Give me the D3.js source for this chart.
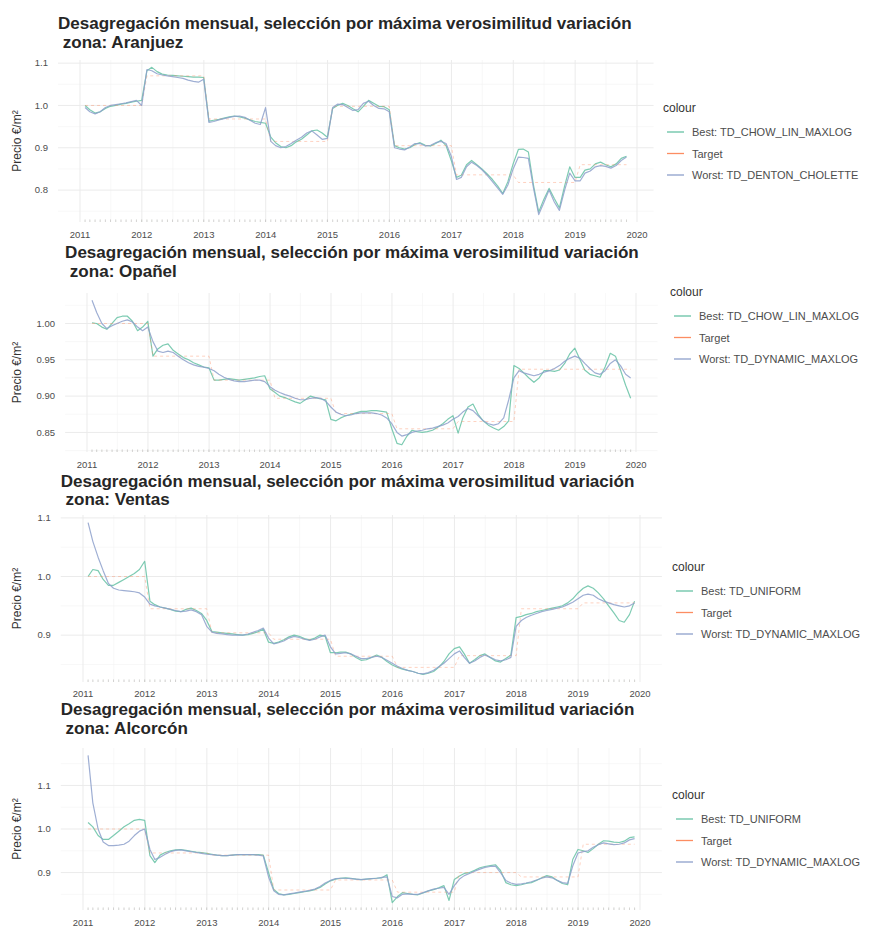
<!DOCTYPE html>
<html>
<head>
<meta charset="utf-8">
<script src="https://cdn.jsdelivr.net/npm/d3@7"></script>
<style>
  body { margin: 0; background: #ffffff; }
  svg { display: block; }
  text { font-family: "Liberation Sans", Arial, Helvetica, sans-serif; }
</style>
</head>
<body>
<svg id="chart" width="881" height="929"></svg>
<script>
// ---------------------------------------------------------------------------
// Data: monthly price index (2011-01 onwards), annual targets, tick labels
// ---------------------------------------------------------------------------
const xTickYears = [2011, 2012, 2013, 2014, 2015, 2016, 2017, 2018, 2019, 2020];
const seriesKeys = ["Best", "Target", "Worst"];
const titleText = "Desagregación mensual, selección por máxima verosimilitud variación";
const legendTitle = "colour";
const yAxisTitle = "Precio €/m²";

// Aranjuez
const aranjuezBest = [
  1.000, 0.990, 0.982, 0.985, 0.993, 0.998, 1.000, 1.003, 1.005, 1.008, 1.010, 1.012,
  1.082, 1.090, 1.080, 1.074, 1.072, 1.071, 1.070, 1.069, 1.068, 1.067, 1.067, 1.066,
  0.963, 0.965, 0.967, 0.970, 0.973, 0.975, 0.973, 0.970, 0.966, 0.962, 0.960, 0.958,
  0.925, 0.912, 0.903, 0.900, 0.905, 0.914, 0.920, 0.930, 0.940, 0.942, 0.935, 0.925,
  0.993, 1.000, 1.005, 1.000, 0.992, 0.985, 0.998, 1.012, 1.005, 0.998, 0.997, 0.990,
  0.905, 0.900, 0.897, 0.900, 0.908, 0.912, 0.906, 0.904, 0.910, 0.918, 0.905, 0.870,
  0.830, 0.835, 0.860, 0.870, 0.860, 0.850, 0.838, 0.825, 0.810, 0.792, 0.820, 0.862,
  0.896, 0.897, 0.890, 0.812, 0.748, 0.778, 0.804, 0.780, 0.758, 0.810, 0.855, 0.830,
  0.830, 0.847, 0.850, 0.862, 0.866, 0.860, 0.855, 0.862, 0.875, 0.880
];
const aranjuezWorst = [
  0.995, 0.985, 0.980, 0.985, 0.995, 1.000, 1.002, 1.004, 1.006, 1.009, 1.012, 1.000,
  1.085, 1.082, 1.075, 1.072, 1.070, 1.068, 1.066, 1.064, 1.060, 1.057, 1.055, 1.062,
  0.960, 0.962, 0.966, 0.969, 0.972, 0.974, 0.975, 0.972, 0.965, 0.958, 0.955, 0.995,
  0.915, 0.905, 0.900, 0.903, 0.910, 0.918, 0.925, 0.935, 0.940, 0.930, 0.920, 0.922,
  0.995, 1.003, 1.002, 0.995, 0.988, 0.990, 1.005, 1.010, 1.000, 0.993, 0.992, 0.985,
  0.900, 0.897, 0.895, 0.902, 0.910, 0.910, 0.904, 0.906, 0.912, 0.915, 0.910, 0.880,
  0.825, 0.830, 0.855, 0.866, 0.858, 0.848, 0.835, 0.820, 0.805, 0.790, 0.812, 0.850,
  0.878, 0.877, 0.875, 0.805, 0.742, 0.770, 0.800, 0.772, 0.752, 0.800, 0.840, 0.822,
  0.822, 0.840, 0.845, 0.855, 0.858, 0.856, 0.852, 0.858, 0.870, 0.878
];
const aranjuezTarget = [1.000, 1.070, 0.968, 0.915, 0.998, 0.905, 0.836, 0.818, 0.860];

// Opañel
const opanelBest = [
  1.001, 1.000, 0.995, 0.992, 1.000, 1.008, 1.010, 1.010, 1.003, 0.990, 0.995, 1.003,
  0.955, 0.965, 0.970, 0.972, 0.963, 0.958, 0.953, 0.950, 0.946, 0.943, 0.940, 0.939,
  0.922, 0.922, 0.923, 0.924, 0.923, 0.922, 0.923, 0.924, 0.925, 0.927, 0.928, 0.910,
  0.905, 0.900, 0.898, 0.895, 0.892, 0.890, 0.895, 0.900, 0.898, 0.896, 0.895, 0.868,
  0.866, 0.870, 0.873, 0.875, 0.877, 0.879, 0.879, 0.880, 0.880, 0.879, 0.878, 0.855,
  0.835, 0.833, 0.845, 0.853, 0.851, 0.850, 0.851, 0.853, 0.857, 0.862, 0.868, 0.873,
  0.849, 0.870, 0.885, 0.889, 0.875, 0.866, 0.860, 0.856, 0.853, 0.858, 0.866, 0.942,
  0.938, 0.932, 0.925, 0.919, 0.925, 0.935, 0.935, 0.934, 0.936, 0.945, 0.958, 0.966,
  0.950, 0.936, 0.930, 0.928, 0.926, 0.940, 0.959, 0.955, 0.936, 0.915, 0.897
];
const opanelWorst = [
  1.032, 1.015, 1.000, 0.993, 0.997, 1.000, 1.003, 1.005, 1.002, 0.995, 0.990, 0.995,
  0.975, 0.962, 0.960, 0.962, 0.960, 0.955, 0.950, 0.946, 0.943, 0.941, 0.940, 0.938,
  0.935, 0.930, 0.926, 0.923, 0.921, 0.920, 0.920, 0.921, 0.922, 0.922, 0.920, 0.913,
  0.908, 0.905, 0.902, 0.900, 0.897, 0.895, 0.895, 0.897, 0.898, 0.897, 0.893, 0.885,
  0.878, 0.875, 0.873, 0.874, 0.876, 0.877, 0.877, 0.877, 0.876, 0.874, 0.870, 0.862,
  0.850, 0.845, 0.847, 0.850, 0.852, 0.853, 0.855, 0.856, 0.858, 0.860, 0.863, 0.868,
  0.872, 0.878, 0.883, 0.880, 0.873, 0.866, 0.862, 0.860, 0.862, 0.870, 0.895, 0.925,
  0.935, 0.932, 0.930, 0.928, 0.930, 0.933, 0.935, 0.938, 0.942, 0.948, 0.952, 0.955,
  0.952, 0.945, 0.938, 0.932, 0.930, 0.935, 0.945, 0.950, 0.942, 0.930, 0.925
];
const opanelTarget = [1.000, 0.955, 0.922, 0.897, 0.876, 0.855, 0.865, 0.937, 0.937];

// Ventas
const ventasBest = [
  1.000, 1.012, 1.010, 0.995, 0.985, 0.985, 0.990, 0.995, 1.000, 1.005, 1.012, 1.026,
  0.958, 0.952, 0.948, 0.946, 0.944, 0.941, 0.940, 0.944, 0.946, 0.942, 0.937, 0.925,
  0.906, 0.905, 0.904, 0.903, 0.902, 0.901, 0.900, 0.901, 0.903, 0.906, 0.910, 0.888,
  0.886, 0.888, 0.892, 0.897, 0.900, 0.898, 0.894, 0.892, 0.895, 0.900, 0.898, 0.870,
  0.870, 0.871, 0.871, 0.868, 0.862, 0.857, 0.858, 0.862, 0.866, 0.862, 0.855, 0.849,
  0.845, 0.842, 0.840, 0.838, 0.835, 0.833, 0.835, 0.838, 0.845, 0.855, 0.868, 0.877,
  0.880, 0.868, 0.852, 0.858, 0.865, 0.868, 0.862, 0.856, 0.854, 0.860, 0.866, 0.930,
  0.932, 0.935, 0.937, 0.940, 0.942, 0.944, 0.946, 0.948, 0.950, 0.955, 0.962, 0.972,
  0.980, 0.984, 0.980, 0.972, 0.962, 0.950, 0.938, 0.925, 0.922, 0.935, 0.958
];
const ventasWorst = [
  1.092, 1.060, 1.033, 1.010, 0.988, 0.980, 0.977, 0.976, 0.975, 0.974, 0.972, 0.965,
  0.953, 0.950, 0.948, 0.946, 0.944, 0.942, 0.940, 0.941, 0.943, 0.940, 0.935, 0.915,
  0.905, 0.903, 0.902, 0.901, 0.900, 0.900, 0.900, 0.902, 0.905, 0.908, 0.912, 0.895,
  0.885, 0.887, 0.890, 0.895, 0.898, 0.896, 0.893, 0.891, 0.893, 0.897, 0.900, 0.880,
  0.868, 0.869, 0.870, 0.868, 0.864, 0.860, 0.860, 0.862, 0.864, 0.862, 0.857, 0.852,
  0.847, 0.843, 0.840, 0.838, 0.835, 0.834, 0.836, 0.840, 0.846, 0.852, 0.860, 0.868,
  0.873, 0.862, 0.852, 0.856, 0.862, 0.866, 0.862, 0.858, 0.856, 0.858, 0.862, 0.915,
  0.925, 0.930, 0.934, 0.937, 0.940, 0.942, 0.944, 0.946, 0.948, 0.952, 0.956, 0.962,
  0.968, 0.970, 0.968, 0.962, 0.958, 0.955, 0.952, 0.950, 0.948, 0.950, 0.955
];
const ventasTarget = [1.000, 0.945, 0.904, 0.893, 0.864, 0.845, 0.865, 0.945, 0.955];

// Alcorcón
const alcorconBest = [
  1.015, 1.005, 0.985, 0.976, 0.976, 0.985, 0.995, 1.005, 1.012, 1.020, 1.022, 1.020,
  0.939, 0.923, 0.940, 0.946, 0.950, 0.952, 0.953, 0.951, 0.949, 0.947, 0.946, 0.944,
  0.942, 0.940, 0.939, 0.939, 0.940, 0.941, 0.941, 0.941, 0.941, 0.941, 0.940, 0.900,
  0.861, 0.852, 0.849, 0.850, 0.852, 0.854, 0.856, 0.858, 0.861, 0.866, 0.874, 0.881,
  0.885, 0.887, 0.888, 0.887, 0.885, 0.884, 0.885, 0.886, 0.887, 0.888, 0.895, 0.831,
  0.845, 0.854, 0.852, 0.850, 0.849, 0.853, 0.858, 0.861, 0.865, 0.870, 0.836, 0.884,
  0.892, 0.898, 0.900, 0.905, 0.911, 0.914, 0.916, 0.918, 0.905, 0.877, 0.872, 0.870,
  0.872, 0.875, 0.877, 0.882, 0.888, 0.893, 0.890, 0.882, 0.875, 0.872, 0.930, 0.953,
  0.950, 0.946, 0.955, 0.965, 0.973, 0.972, 0.970, 0.969, 0.972, 0.980, 0.982
];
const alcorconWorst = [
  1.169, 1.060, 1.000, 0.970, 0.962, 0.962, 0.963, 0.965, 0.972, 0.985, 0.995, 1.000,
  0.953, 0.930, 0.935, 0.942, 0.948, 0.951, 0.952, 0.950, 0.948, 0.946, 0.944, 0.942,
  0.941, 0.940, 0.939, 0.939, 0.940, 0.941, 0.941, 0.941, 0.941, 0.940, 0.938, 0.890,
  0.858, 0.850, 0.849, 0.851, 0.853, 0.855, 0.857, 0.859, 0.862, 0.868, 0.876, 0.882,
  0.886, 0.887, 0.887, 0.886, 0.885, 0.884, 0.885, 0.886, 0.887, 0.889, 0.890, 0.845,
  0.842, 0.850, 0.851, 0.850, 0.850, 0.854, 0.858, 0.862, 0.864, 0.866, 0.850, 0.870,
  0.885, 0.893, 0.898, 0.903, 0.908, 0.912, 0.914, 0.915, 0.900, 0.882, 0.876, 0.873,
  0.874, 0.876, 0.879, 0.883, 0.887, 0.890, 0.888, 0.882, 0.877, 0.875, 0.915, 0.945,
  0.948, 0.950, 0.958, 0.964, 0.968, 0.966, 0.964, 0.965, 0.968, 0.975, 0.978
];
const alcorconTarget = [1.000, 0.945, 0.940, 0.860, 0.883, 0.855, 0.900, 0.890, 0.965];

// Y tick labels for each zone
const aranjuezYTicks = ["0.8", "0.9", "1.0", "1.1"];
const opanelYTicks = ["0.85", "0.90", "0.95", "1.00"];
const ventasYTicks = ["0.9", "1.0", "1.1"];
const alcorconYTicks = ["0.9", "1.0", "1.1"];

// ---------------------------------------------------------------------------
// Panel set-up (page layout for each stacked chart)
// ---------------------------------------------------------------------------
const panels = [
  { zone: "Aranjuez", best: aranjuezBest, worst: aranjuezWorst, target: aranjuezTarget,
    bestName: "Best: TD_CHOW_LIN_MAXLOG", worstName: "Worst: TD_DENTON_CHOLETTE", yTicks: aranjuezYTicks,
    top: 60, bottom: 222, x2011: 80, x2020: 637, t1: 29, t2: 47.5, xLab: 238, legX: 663, legY: 112 },
  { zone: "Opañel", best: opanelBest, worst: opanelWorst, target: opanelTarget,
    bestName: "Best: TD_CHOW_LIN_MAXLOG", worstName: "Worst: TD_DYNAMIC_MAXLOG", yTicks: opanelYTicks,
    top: 293, bottom: 452, x2011: 87, x2020: 636, t1: 258, t2: 276.5, xLab: 468, legX: 670, legY: 296 },
  { zone: "Ventas", best: ventasBest, worst: ventasWorst, target: ventasTarget,
    bestName: "Best: TD_UNIFORM", worstName: "Worst: TD_DYNAMIC_MAXLOG", yTicks: ventasYTicks,
    top: 515, bottom: 682, x2011: 83, x2020: 640, t1: 486.5, t2: 505, xLab: 697, legX: 672, legY: 571 },
  { zone: "Alcorcón", best: alcorconBest, worst: alcorconWorst, target: alcorconTarget,
    bestName: "Best: TD_UNIFORM", worstName: "Worst: TD_DYNAMIC_MAXLOG", yTicks: alcorconYTicks,
    top: 748, bottom: 910, x2011: 83, x2020: 640, t1: 715, t2: 733.5, xLab: 926, legX: 672, legY: 799 }
];

const colour = d3.scaleOrdinal().domain(seriesKeys).range(["#66C2A5", "#FC8D62", "#8DA0CB"]);

const svg = d3.select("#chart");
svg.append("rect").attr("width", 881).attr("height", 929).attr("fill", "#ffffff");

const monthEnd = i => new Date(2011, i + 1, 0);

panels.forEach(p => {
  const g = svg.append("g");
  const n = p.best.length;
  const dates = d3.range(n).map(monthEnd);
  const targetMonthly = dates.map(d => p.target[d.getFullYear() - 2011]);

  // x: year ticks placed by a time scale; plot edges at 5% expansion of the data span
  const x = d3.scaleTime()
    .domain([new Date(2011, 0, 1), new Date(2020, 0, 1)])
    .range([p.x2011, p.x2020]);
  const padMs = (dates[n - 1] - dates[0]) * 0.05;
  const left = x(new Date(+dates[0] - padMs));
  const right = x(new Date(+dates[n - 1] + padMs));

  // y: data extent with 5% expansion
  const all = p.best.concat(p.worst, targetMonthly);
  const [lo, hi] = d3.extent(all);
  const yPad = (hi - lo) * 0.05;
  const y = d3.scaleLinear().domain([lo - yPad, hi + yPad]).range([p.bottom, p.top]);

  // grid: minor lines first, then major
  const yMajor = p.yTicks.map(Number);
  const step = yMajor[1] - yMajor[0];
  const yMinor = [];
  for (let v = yMajor[0] - step / 2; v <= hi + yPad; v += step) {
    if (v >= lo - yPad) yMinor.push(v);
  }
  const xMajor = xTickYears.map(yr => new Date(yr, 0, 1)).filter(d => x(d) >= left && x(d) <= right);
  const xMinor = xTickYears.map(yr => new Date(yr, 6, 2)).filter(d => x(d) >= left && x(d) <= right);

  g.selectAll(".yminor").data(yMinor).join("line")
    .attr("x1", left).attr("x2", right)
    .attr("y1", d => y(d)).attr("y2", d => y(d))
    .attr("stroke", "#f3f3f3").attr("stroke-width", 0.6);
  g.selectAll(".xminor").data(xMinor).join("line")
    .attr("x1", d => x(d)).attr("x2", d => x(d))
    .attr("y1", p.top).attr("y2", p.bottom)
    .attr("stroke", "#f3f3f3").attr("stroke-width", 0.6);
  g.selectAll(".ymajor").data(yMajor).join("line")
    .attr("x1", left).attr("x2", right)
    .attr("y1", d => y(d)).attr("y2", d => y(d))
    .attr("stroke", "#ebebeb").attr("stroke-width", 1);
  g.selectAll(".xmajor").data(xMajor).join("line")
    .attr("x1", d => x(d)).attr("x2", d => x(d))
    .attr("y1", p.top).attr("y2", p.bottom)
    .attr("stroke", "#ebebeb").attr("stroke-width", 1);

  // faint rug of monthly observations along the bottom edge
  const rug = g.append("g");
  ["Best", "Target", "Worst"].forEach(k => {
    rug.selectAll(null).data(dates).join("line")
      .attr("x1", d => x(d)).attr("x2", d => x(d))
      .attr("y1", p.bottom).attr("y2", p.bottom - 2.5)
      .attr("stroke", colour(k)).attr("stroke-opacity", 0.18).attr("stroke-width", 1);
  });

  // series lines
  const line = d3.line().x((d, i) => x(dates[i])).y(d => y(d));
  const series = [
    { key: "Best", values: p.best, dash: null },
    { key: "Target", values: targetMonthly, dash: "3,3" },
    { key: "Worst", values: p.worst, dash: null }
  ];
  g.selectAll(".series").data(series).join("path")
    .attr("d", s => line(s.values))
    .attr("fill", "none")
    .attr("stroke", s => colour(s.key))
    .attr("stroke-width", s => s.key === "Target" ? 1 : 1.2)
    .attr("stroke-opacity", s => s.key === "Target" ? 0.4 : 0.85)
    .attr("stroke-dasharray", s => s.dash)
    .attr("stroke-linejoin", "round");

  // axes labels
  g.selectAll(".ylab").data(p.yTicks).join("text")
    .attr("x", left - 10).attr("y", d => y(+d) + 3.3)
    .attr("text-anchor", "end").attr("font-size", 9.5).attr("fill", "#4d4d4d")
    .text(d => d);
  g.selectAll(".xlab").data(xTickYears).join("text")
    .attr("x", d => x(new Date(d, 0, 1))).attr("y", p.xLab)
    .attr("text-anchor", "middle").attr("font-size", 9.5).attr("fill", "#4d4d4d")
    .text(d => String(d));

  g.append("text")
    .attr("transform", `translate(21,${(p.top + p.bottom) / 2}) rotate(-90)`)
    .attr("text-anchor", "middle").attr("font-size", 12).attr("fill", "#333333")
    .text(yAxisTitle);

  // title (two lines)
  const t1 = g.append("text").attr("x", left).attr("y", p.t1)
    .attr("font-weight", "bold").attr("font-size", 17).attr("fill", "#262626")
    .text(titleText);
  const w = t1.node().getComputedTextLength();
  const fs = 17 * 574 / w;
  t1.attr("font-size", fs);
  g.append("text").attr("x", left + fs * 0.28).attr("y", p.t2)
    .attr("font-weight", "bold").attr("font-size", fs).attr("fill", "#262626")
    .text("zona: " + p.zone);

  // legend
  const leg = g.append("g");
  leg.append("text").attr("x", p.legX).attr("y", p.legY)
    .attr("font-size", 12).attr("fill", "#333333").text(legendTitle);
  const names = [p.bestName, "Target", p.worstName];
  seriesKeys.forEach((k, i) => {
    const cy = p.legY + 20 + i * 21.5;
    leg.append("line")
      .attr("x1", p.legX + 4).attr("x2", p.legX + 21)
      .attr("y1", cy).attr("y2", cy)
      .attr("stroke", colour(k)).attr("stroke-width", 1.3);
    leg.append("text").attr("x", p.legX + 29).attr("y", cy + 4)
      .attr("font-size", 11).attr("fill", "#4d4d4d").text(names[i]);
  });
});
</script>
</body>
</html>
